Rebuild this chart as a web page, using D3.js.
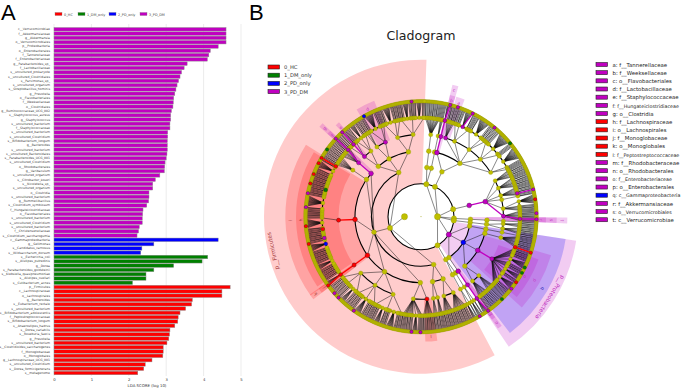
<!DOCTYPE html>
<html>
<head>
<meta charset="utf-8">
<script src="https://cdn.jsdelivr.net/npm/d3@7"></script>
<style>
html,body{margin:0;padding:0;background:#fff;}
svg{display:block;}
text{font-family:"DejaVu Sans",sans-serif;}
</style>
</head>
<body>
<div id="chart"></div>
<script>
// groups
const groups = ["0_HC","1_DM_only","2_PD_only","3_PD_DM"];
const groupColors = ["#ff0000","#008000","#0000ff","#c000c0"];

// LDA bars, top to bottom
const pdDmNames = ["c__Verrucomicrobiae","f__Akkermansiaceae","g__Akkermansia","o__Verrucomicrobiales","p__Proteobacteria","o__Enterobacterales","f__Tannerellaceae","f__Enterobacteriaceae","g__Parabacteroides_sp_","f__Lactobacillaceae","s__uncultured_prokaryote","s__uncultured_Clostridiales","s__Parvimonas_sp_","s__uncultured_organism","s__Streptobacillus_hominis","g__Prevotella","o__Flavobacteriales","f__Weeksellaceae","o__Clostridiales","g__Ruminococcaceae_UCG_002","s__Staphylococcus_aureus","g__Staphylococcus","s__uncultured_bacterium","f__Staphylococcaceae","s__uncultured_bacterium","s__uncultured_Clostridium","s__Bifidobacterium_longum","g__Bacteroides","s__uncultured_bacterium","s__uncultured_Bacteroidales","s__Parabacteroides_UCG_001","s__uncultured_Clostridium","o__Rhodobacterales","g__Varibaculum","s__uncultured_organism","s__Citrobacter_koseri","s__Nicoletella_sp_","s__uncultured_organism","o__Clostridia","s__uncultured_bacterium","g__Rummeliibacillus","s__Clostridium_symbiosum","f__Hungateiclostridiaceae","o__Flavobacteriales","s__uncultured_bacterium","s__uncultured_Clostridium","s__uncultured_bacterium","f__Christensenellaceae","s__Clostridium_saccharogumia"];
const pdDmValues = [4.6,4.6,4.6,4.6,4.39,4.18,4.14,4.1,3.56,3.48,3.41,3.37,3.33,3.29,3.26,3.23,3.2,3.19,3.18,3.14,3.12,3.12,3.1,3.1,3.04,3.04,3.03,3.03,3.03,3.02,3.0,2.97,2.96,2.95,2.83,2.71,2.64,2.64,2.54,2.54,2.53,2.48,2.38,2.37,2.36,2.36,2.28,2.26,2.22];
const pdNames = ["c__Gammaproteobacteria","g__Sellimonas","s__Candidatus_carnosus","s__Wildsaccharum_dorsum"];
const pdValues = [4.39,2.67,2.35,2.32];
const dmNames = ["s__Escherichia_coli","s__Alistipes_putredinis","g__Dorea","s__Parabacteroides_goldsteinii","s__Klebsiella_quasipneumoniae","s__Alistipes_cuellari","s__Cutibacterium_acnes"];
const dmValues = [4.11,3.96,3.2,2.67,2.46,2.46,2.1];
const hcNames = ["p__Firmicutes","c__Lachnospiraceae","o__Lachnospirales","g__Bacteroides","s__Eubacterium_rectale","s__uncultured_bacterium","s__Bifidobacterium_adolescentis","f__Peptostreptococcaceae","s__Bifidobacterium_longum","s__Anaerostipes_hadrus","s__Dorea_variabilis","s__Roseburia_faecis","g__Prevotella","s__uncultured_bacterium","s__Clostridioides_saccharogenes","f__Monoglobaceae","o__Monoglobales","g__Lachnospiraceae_UCG_001","s__uncultured_Clostridium","s__Dorea_formicigenerans","s__metagenome"];
const hcValues = [4.71,4.49,4.49,3.7,3.68,3.52,3.37,3.32,3.31,3.23,3.1,3.09,3.07,3.02,2.92,2.92,2.91,2.62,2.44,2.4,2.24];
const axisTicks = [0,1,2,3,4,5];

// taxa tree, clockwise from the top: phylum > class > order > family > species per genus
const phylumA = [[[[2,1,1,2,1,1,2,1,1,2,1,1,1,1]]],[[[1,1,1,1]]]];
const phylumB = [[[[4]],[[1,2,1,2,1,1,2],[1,1,2,1,1,8,2,1,1],[1,1,2,12,1,2,1,2,1,1],[1,2,1,1,14,1,1,1],[1,1,14,1,1,1,1]]]];
const phylumC = [[[[1,1,2,1,1,2,1,1],[1,1,2,2,1,1,2,1,1],[1,1,2,1,2,1,1,1],[2],[10,1,1,2,1,1],[1,1,2,1,1,2,1,1,1,1]]]];
const verrucomicrobia = [[[[2]]]];
const phylumD = [[[[2,1,1,2],[1,1,2,1,1,2]]]];
const proteobacteria = [[[[2]]],[[[1,1,1,1,2,1,1,2,1,1,2]],[[1,1,2,1,1,2,1,1,8,1,1,2,1,1,6,2,1,1,8,1,1,2,1,1,1,1]],[[1,1,1,1,2,1,1,2],[1,1,2,1,1,2,1,1,1,1]]],[[[6]]]];
const phylumE = [[[[2,4]],[[2,4]]]];
const lachnospiraceae = [1,2,1,1,2,1,1,2,1,1,6,1,1,2,1,1,2,1,1,2,1,1,8,1,1,2,1,1,2,1,1,2,1,1,2,10,1,1,2,1,1,2,1,1,2,12,1,1,2,1,1,1,2,1,1,2,1,1,2,1,1,2,1,1,2,1,1,2,8,2,1,1];
const firmicutes = [
  [[[1,1,2,1,1,2,1,1,2,1,1,2],[1,1,2,1,1,2,1,1,2]],[[1,1,1,1,2],[1,2,1,2]]],
  [[[1,1,2,1,1,2,1,1,2],[1,1,2,1,6,1,1,2,1,2,1,1,1,1,2]],[[1,1,2,1,1,8,1,2,1,1,2,6,1,1,2,1,1,1],[1,2,1,1,2,1,8,1,2,1,1,2,1],[2,1,1,6,1,2,1,1,2,1,1,1,2,1,2,1]],[[6]],[lachnospiraceae],[[1,2,1,1,2,1,1,2,1]],[[1,2,2,1,1,2,1,1,1,2]]],
  [[[1,1,2,1,1,2,1,1],[1,1,2,6,1,2,1]],[[2,1,1,2],[1,1,10,1,2,1,1,1]],[[1,2,1,8,1,1,2,1,1,2],[1,1,2,1,6,1,1,2,1,1,2,6,2,1]]]
];
const kingdomAngles = [90,270];

// families in these angle spans show only a few links down to their genera
const sparseSpans = [[20,60],[190,232],[235,302],[314,362]];

// coloured branches: angle, first depth, last depth, group
const marks = [
  [14.5,4,7,3],[17,5,5,3],[18.5,7,7,3],[26.5,6,7,3],[39.5,7,7,3],[50.5,7,7,1],[76.5,6,7,3],[81.5,7,7,0],[88.5,7,7,3],
  [91.5,3,7,3],[122,2,2,3],[120.6,3,3,2],[120,4,5,3],[108,6,7,0],[116,7,7,1],[119,7,7,1],[124.5,7,7,0],[128.5,7,7,3],[135.5,7,7,1],
  [144.5,4,7,3],[149.5,7,7,3],[175,5,5,0],[180.5,7,7,3],[184.5,7,7,3],[215.5,7,7,3],[225.5,7,7,3],[228.5,7,7,3],
  [233.5,4,7,0],[268,4,5,0],[256.5,7,7,0],[265.5,7,7,0],[263,6,6,0],[253,6,6,2],[257.5,6,6,3],[285.5,6,6,1],[274.5,7,7,3],[281.5,7,7,3],
  [286.5,7,7,0],[291.5,7,7,0],[297.5,7,7,0],[300.5,6,7,0],[305.5,7,7,1],[312.5,4,7,3],[317,5,7,3],[333,5,5,3],[330.5,7,7,2],[355.5,7,7,3]
];

// shaded sectors: start, end, depth, group, label
const sectors = [
  [152,362,2,0,"p__Firmicutes"],[98.8,146,2,3,"p__Proteobacteria"],
  [98.8,142.6,3,2,"q"],[106.5,132,4,3,"p"],[110,130,5,3,"o"],
  [90.3,92.7,3,3,"t"],[90.3,92.7,4,3,"s"],[90.3,92.7,5,3,"r"],
  [143.5,145.5,4,3,"n"],[143.5,145.5,5,3,"m"],
  [13.4,16,4,3,"c"],[13.4,16,5,3,"b"],[16.4,20.4,5,3,"a"],
  [329,338,5,3,"d"],[317,319,5,3,"e"],[311.5,313.5,4,3,"g"],[311.5,313.5,5,3,"f"],
  [234.5,302,4,0,"i"],[236,301,5,0,"h"],[232.5,235,4,0,"k"],[232.5,235,5,0,"j"],[172.5,178,5,0,"l"]
];

const keyLabels = ["a: f__Tannerellaceae","b: f__Weeksellaceae","c: o__Flavobacteriales","d: f__Lactobacillaceae","e: f__Staphylococcaceae","f: f__Hungateiclostridiaceae","g: o__Clostridia","h: f__Lachnospiraceae","i: o__Lachnospirales","j: f__Monoglobaceae","k: o__Monoglobales","l: f__Peptostreptococcaceae","m: f__Rhodobacteraceae","n: o__Rhodobacterales","o: f__Enterobacteriaceae","p: o__Enterobacterales","q: c__Gammaproteobacteria","r: f__Akkermansiaceae","s: o__Verrucomicrobiales","t: c__Verrucomicrobiae"];
const keyGroups = [3,3,3,3,3,3,3,0,0,0,0,0,3,3,3,3,2,3,3,3];

const w = 685;
const h = 388;
const svg = d3.select("#chart").append("svg").attr("width",w).attr("height",h);

svg.append("text").attr("x",1).attr("y",20).style("font-size","22px").style("font-family","'Liberation Sans',sans-serif").text("A");
svg.append("text").attr("x",249).attr("y",20).style("font-size","22px").style("font-family","'Liberation Sans',sans-serif").text("B");

// bar chart
const barRows = [];
[[pdDmNames,pdDmValues,3],[pdNames,pdValues,2],[dmNames,dmValues,1],[hcNames,hcValues,0]].forEach(s=>{
  s[0].forEach((n,i)=>barRows.push({name:n,value:s[1][i],group:s[2]}));
});
const x = d3.scaleLinear().domain([0,5]).range([54,241]);
const y = d3.scaleBand().domain(d3.range(barRows.length)).range([27.15,375.15]).paddingInner(0.18).paddingOuter(0.09);

svg.append("g").selectAll("line").data(axisTicks).enter().append("line")
  .attr("x1",d=>x(d)).attr("x2",d=>x(d)).attr("y1",24).attr("y2",376)
  .attr("stroke","#d8d8d8").attr("stroke-width",0.5);

svg.append("g").selectAll("rect").data(barRows).enter().append("rect")
  .attr("x",x(0))
  .attr("y",(d,i)=>y(i))
  .attr("width",d=>x(d.value)-x(0))
  .attr("height",y.bandwidth())
  .attr("fill",d=>groupColors[d.group])
  .attr("stroke","#8c8c8c").attr("stroke-width",0.45);

svg.append("g").selectAll("text").data(barRows).enter().append("text")
  .attr("x",50).attr("y",(d,i)=>y(i)+y.bandwidth()/2+1)
  .attr("text-anchor","end").style("font-size","3.1px").attr("fill","#444")
  .text(d=>d.name);

const xAxis = svg.append("g").attr("transform","translate(0,376)")
  .call(d3.axisBottom(x).tickValues(axisTicks).tickSize(0).tickPadding(2.5).tickFormat(d3.format("d")));
xAxis.select(".domain").remove();
xAxis.selectAll("text").style("font-size","3.8px").attr("fill","#333");
svg.append("text").attr("x",147).attr("y",386.5).attr("text-anchor","middle").style("font-size","3.9px").attr("fill","#333").text("LDA SCORE (log 10)");

// bar legend, positions by group index
const barLegendX = d3.scaleOrdinal().domain(groups).range([55,78,109,140]);
const barLegend = svg.append("g").selectAll("g").data(groups).enter().append("g")
  .attr("transform",d=>`translate(${barLegendX(d)},12.5)`);
barLegend.append("rect").attr("width",7).attr("height",3).attr("fill",(d,i)=>groupColors[i]).attr("stroke","#777").attr("stroke-width",0.3);
barLegend.append("text").attr("x",9).attr("y",3).style("font-size","3.4px").attr("fill","#444").text(d=>d);

// cladogram
svg.append("text").attr("x",421).attr("y",40).attr("text-anchor","middle").style("font-size","12.6px").attr("fill","#222").text("Cladogram");

function toNode(v){
  if(Array.isArray(v)) return {children:v.map(toNode)};
  return {children:d3.range(v).map(()=>({}))};
}
const treeData = {children:[
  {children:[phylumA,phylumB,phylumC,verrucomicrobia,phylumD,proteobacteria,phylumE].map(toNode)},
  {children:[toNode(firmicutes)]}
]};
const root = d3.hierarchy(treeData);
d3.cluster().size([360,1]).separation(()=>1)(root);
const startAngle = 2;
root.each(d=>{d.angle = d.x+startAngle;});
root.children.forEach((d,i)=>{d.angle = kingdomAngles[i];});

const ring = d3.scaleLinear().domain([0,7]).range([0,115.5]);
const sectorOuter = d3.scaleLinear().domain([2,5]).range([157,125]);
const rad = d3.scaleLinear().domain([0,360]).range([0,2*Math.PI]);
const point = d=>d3.pointRadial(rad(d.angle),ring(d.depth));
const clado = svg.append("g").attr("transform","translate(421,216.7)");
const arc = d3.arc();

// sectors first, they sit under everything
clado.append("g").selectAll("path").data(sectors).enter().append("path")
  .attr("d",d=>arc({innerRadius:ring(d[2]),outerRadius:sectorOuter(d[2]),startAngle:rad(d[0]),endAngle:rad(d[1])}))
  .attr("fill",d=>groupColors[d[3]]).attr("fill-opacity",0.2);

const nodes = root.descendants();
const marked = new Map();
marks.forEach(m=>{
  let n = d3.least(nodes.filter(d=>d.depth===m[2]),d=>Math.abs(d.angle-m[0]));
  while(n && n.depth>=m[1]){
    marked.set(n,{group:m[3],top:m[1]});
    n = n.parent;
  }
});

// closed ring at the phylum level, plus an arc over the children of each node
clado.append("circle").attr("r",ring(2)).attr("fill","none").attr("stroke","#000").attr("stroke-width",1.1);
clado.append("g").selectAll("path").data(nodes.filter(d=>d.children && d.children.length>1 && d.depth>1)).enter().append("path")
  .attr("d",d=>{
    const r = ring(d.depth+1);
    return arc({innerRadius:r,outerRadius:r,startAngle:rad(d.children[0].angle),endAngle:rad(d.children[d.children.length-1].angle)});
  })
  .attr("fill","none").attr("stroke","#000").attr("stroke-width",1.1);

const isMarkedLink = d=>{
  const m = marked.get(d.target);
  return m && d.source.depth>=m.top;
};
// big families in the sparse spans keep the middle link, the rest also keep their two ends
const keepLink = d=>{
  if(d.target.depth!==6 || isMarkedLink(d)) return true;
  if(!sparseSpans.some(s=>d.source.angle>=s[0] && d.source.angle<=s[1])) return true;
  const kids = d.source.children;
  const i = kids.indexOf(d.target);
  if(i===Math.floor(kids.length/2)) return true;
  return kids.length<30 && (i===0 || i===kids.length-1);
};
const links = root.links().filter(d=>d.source.depth>0 && keepLink(d));
clado.append("g").selectAll("line").data(links.filter(d=>!isMarkedLink(d))).enter().append("line")
  .attr("x1",d=>point(d.source)[0]).attr("y1",d=>point(d.source)[1])
  .attr("x2",d=>point(d.target)[0]).attr("y2",d=>point(d.target)[1])
  .attr("stroke","#111").attr("stroke-width",d=>d.target.depth===7?0.6:0.5);
clado.append("g").selectAll("line").data(links.filter(isMarkedLink)).enter().append("line")
  .attr("x1",d=>point(d.source)[0]).attr("y1",d=>point(d.source)[1])
  .attr("x2",d=>point(d.target)[0]).attr("y2",d=>point(d.target)[1])
  .attr("stroke",d=>groupColors[marked.get(d.target).group]).attr("stroke-width",1.3);

const nodeSizes = [0.3,3.1,2.6,2.4,2.4,2.1,1.9,1.7];
const ordered = nodes.slice().sort((a,b)=>(marked.has(a)?1:0)-(marked.has(b)?1:0));
clado.append("g").selectAll("circle").data(ordered).enter().append("circle")
  .attr("cx",d=>point(d)[0]).attr("cy",d=>point(d)[1])
  .attr("r",d=>nodeSizes[d.depth])
  .attr("fill",d=>marked.has(d)?groupColors[marked.get(d).group]:"#bfbf00")
  .attr("stroke",d=>marked.has(d)?"#111":"#8f8f00").attr("stroke-width",0.3);

// sector labels, turned with the circle
clado.append("g").selectAll("text").data(sectors).enter().append("text")
  .attr("transform",d=>{
    const a = (d[0]+d[1])/2;
    const long = d[4].length>1;
    const p = d3.pointRadial(rad(long?(d[0]===152?257:122):a),sectorOuter(d[2])-5);
    return `translate(${p[0]},${p[1]}) rotate(${long?(d[0]===152?257:122):a})`;
  })
  .attr("text-anchor","middle").attr("dy","0.35em")
  .style("font-size",d=>d[4].length>1?"5.6px":"4.4px")
  .attr("fill",d=>d[3]===0?"#a83c3c":d[3]===2?"#2020b0":"#c030c0")
  .text(d=>d[4]);

// cladogram legend
const cladoLegend = svg.append("g").selectAll("g").data(groups).enter().append("g")
  .attr("transform",(d,i)=>`translate(268,${65+i*8.2})`);
cladoLegend.append("rect").attr("width",11.5).attr("height",4).attr("fill",(d,i)=>groupColors[i]).attr("stroke","#222").attr("stroke-width",0.6);
cladoLegend.append("text").attr("x",16).attr("y",4).style("font-size","5.2px").attr("fill","#333").text(d=>d);

// letter key on the right
const key = svg.append("g").selectAll("g").data(keyLabels).enter().append("g")
  .attr("transform",(d,i)=>`translate(596,${62.5+i*8.17})`);
key.append("rect").attr("width",11.5).attr("height",4).attr("fill",(d,i)=>groupColors[keyGroups[i]]).attr("stroke","#222").attr("stroke-width",0.6);
key.append("text").attr("x",16.5).attr("y",4.2).style("font-size",d=>d.length>=24?"4.8px":"5.4px").attr("fill","#222").text(d=>d);
</script>
</body>
</html>
